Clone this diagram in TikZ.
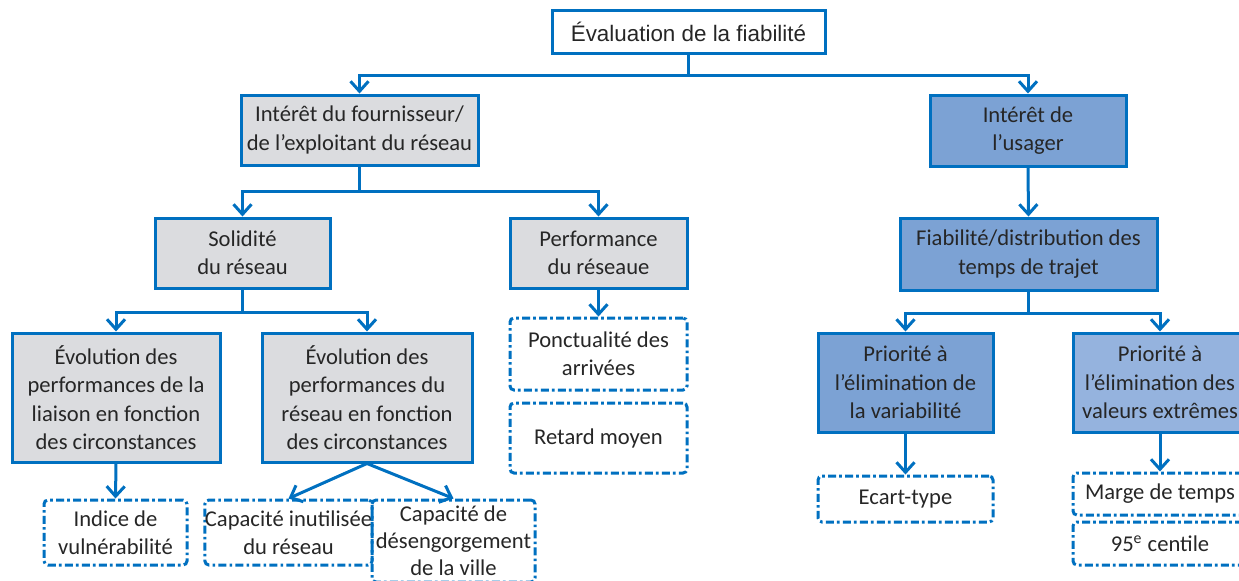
\documentclass[tikz,border=0pt]{standalone}
\usepackage{fontspec}
\setmainfont{Carlito}
\newfontfamily\arialfont{Liberation Sans}
\usetikzlibrary{arrows.meta}

\definecolor{lineblue}{RGB}{0,112,192}
\definecolor{greyfill}{RGB}{219,220,223}
\definecolor{bluefill}{RGB}{124,162,212}
\definecolor{paleblue}{RGB}{149,179,222}
\definecolor{textgrey}{RGB}{38,38,38}

\tikzset{
  box/.style={draw=lineblue, line width=1.5pt, align=center, inner sep=0pt,
    text=textgrey, font=\fontsize{11.3}{14.2}\selectfont},
  greybox/.style={box, fill=greyfill},
  bluebox/.style={box, fill=bluefill},
  measbox/.style={box, rounded corners=2pt,
    dash pattern=on 4pt off 1.6pt on 1.3pt off 1.6pt},
  link/.style={draw=lineblue, line width=1.5pt,
    -{Straight Barb[length=5pt,width=9pt]}}
}

\begin{document}
\begin{tikzpicture}[x=0.5pt, y=-0.5pt]
  \path[use as bounding box, clip] (0,0) rectangle (1239,580);

  \node[box, font=\arialfont\fontsize{11.2}{13}\selectfont,
    minimum width=136.5pt, minimum height=21.5pt] (eval) at (688.5,31.5)
    {Évaluation de la fiabilité};

  % fournisseur / exploitant
  \node[greybox, minimum width=118.5pt, minimum height=35pt] (fourn) at (359.5,130)
    {Intérêt du fournisseur/\\de l’exploitant du réseau};
  \node[greybox, minimum width=87.5pt, minimum height=35pt] (solid) at (242.5,253)
    {Solidité\\du réseau};
  \node[greybox, minimum width=88.5pt, minimum height=35pt] (perf) at (598.5,253)
    {Performance\\du réseaue};
  \node[greybox, minimum width=104pt, minimum height=64.5pt] (liaison) at (116,397.5)
    {Évolution des\\performances de la\\liaison en fonction\\des circonstances};
  \node[greybox, minimum width=105pt, minimum height=64.5pt] (reseau) at (367,397.5)
    {Évolution des\\performances du\\réseau en fonction\\des circonstances};
  \node[measbox, minimum width=88.5pt, minimum height=36pt] (ponct) at (598.5,354)
    {Ponctualité des\\arrivées};
  \node[measbox, minimum width=88.5pt, minimum height=35pt] (retard) at (598.5,438)
    {Retard moyen};
  \node[measbox, minimum width=71.5pt, minimum height=32.5pt] (indice) at (115.5,532.5)
    {Indice de\\vulnérabilité};
  \node[measbox, minimum width=81.5pt, minimum height=32.5pt] (capinut) at (288.5,532.5)
    {Capacité inutilisée\\du réseau};
  \node[measbox, font=\fontsize{11.3}{13.6}\selectfont,
    minimum width=81.5pt, minimum height=41pt] (capdes) at (453.5,541)
    {Capacité de\\désengorgement\\de la ville};

  % usager
  \node[bluebox, minimum width=98pt, minimum height=35.5pt] (usager) at (1028,130.5)
    {Intérêt de\\l’usager};
  \node[bluebox, minimum width=128.5pt, minimum height=36pt] (fiab) at (1028.5,254)
    {Fiabilité/distribution des\\temps de trajet};
  \node[bluebox, minimum width=87.5pt, minimum height=49.5pt] (variab) at (905.5,382.5)
    {Priorité à\\l’élimination de\\la variabilité};
  \node[box, fill=paleblue, minimum width=87pt, minimum height=49.5pt] (extreme) at (1160,382.5)
    {Priorité à\\l’élimination des\\valeurs extrêmes};
  \node[measbox, minimum width=87.5pt, minimum height=23pt] (ecart) at (905.5,499)
    {Ecart-type};
  \node[measbox, minimum width=87pt, minimum height=21pt] (marge) at (1160,494)
    {Marge de temps};
  \node[measbox, minimum width=87pt, minimum height=21.5pt] (centile) at (1160,543.5)
    {95\textsuperscript{e} centile};

  \draw[link] (eval.south) -- ++(0,21) -| (fourn.north);
  \draw[link] (eval.south) -- ++(0,21) -| (usager.north);
  \draw[link] (fourn.south) -- ++(0,25) -| (solid.north);
  \draw[link] (fourn.south) -- ++(0,25) -| (perf.north);
  \draw[link] (solid.south) -- ++(0,23) -| (liaison.north);
  \draw[link] (solid.south) -- ++(0,23) -| (reseau.north);
  \draw[link] (perf.south) -- (ponct.north);
  \draw[link] (liaison.south) -- (indice.north);
  \draw[link] (reseau.south) -- (capinut.north);
  \draw[link] (reseau.south) -- (capdes.north);
  \draw[link] (usager.south) -- (fiab.north);
  \draw[link] (fiab.south) -- ++(0,22) -| (variab.north);
  \draw[link] (fiab.south) -- ++(0,22) -| (extreme.north);
  \draw[link] (variab.south) -- (ecart.north);
  \draw[link] (extreme.south) -- (marge.north);
\end{tikzpicture}
\end{document}
